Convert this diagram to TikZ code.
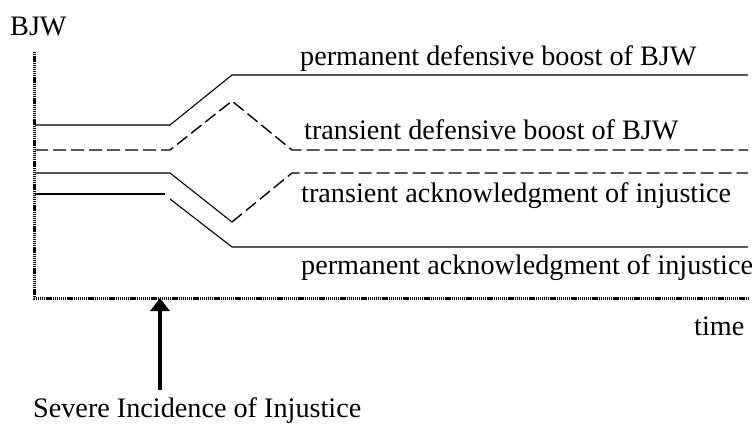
\documentclass[tikz,border=0pt]{standalone}
\usepackage{fontspec}
\setmainfont{Liberation Serif}
\usetikzlibrary{arrows.meta}
\begin{document}
\begin{tikzpicture}[x=1pt,y=-1pt,
  lbl/.style={font=\fontsize{28.2}{32}\selectfont, inner sep=0pt, anchor=west},
  axisline/.style={line width=3pt, dash pattern=on 1.3pt off 0.8pt},
  thinline/.style={line width=1.1pt},
  dashline/.style={line width=1.4pt, dash pattern=on 13pt off 5pt},
  bigarrow/.style={line width=3.5pt, -{Triangle[length=13pt,width=19pt]}}]
\useasboundingbox (0,0) rectangle (756,431);
% axes
\coordinate (ytop) at (34,52);
\coordinate (origin) at (34,298);
\coordinate (xend) at (749,298);
\draw[axisline] (ytop) -- (origin) -- (xend);
% permanent defensive boost
\coordinate (a0) at (35,125);
\coordinate (a1) at (170,125);
\coordinate (a2) at (232,75);
\coordinate (a3) at (748,75);
\draw[thinline] (a0) -- (a1) -- (a2) -- (a3);
% transient defensive boost
\coordinate (b0) at (35,150);
\coordinate (b1) at (170,150);
\coordinate (b2) at (232,101);
\coordinate (b3) at (292,150);
\coordinate (b4) at (748,150);
\draw[dashline] (b0) -- (b1) -- (b2) -- (b3) -- (b4);
% transient acknowledgment
\coordinate (c0) at (35,173);
\coordinate (c1) at (170,173);
\coordinate (c2) at (232,222);
\coordinate (c3) at (292,173);
\coordinate (c4) at (748,173);
\draw[thinline] (c0) -- (c1) -- (c2);
\draw[dashline] (c2) -- (c3) -- (c4);
% permanent acknowledgment
\coordinate (d0) at (35,194);
\coordinate (d1) at (165,194);
\coordinate (d2) at (170,199);
\coordinate (d3) at (232,247);
\coordinate (d4) at (748,247);
\draw[thinline] (d0) -- (d1);
\draw[thinline] (d2) -- (d3) -- (d4);
% labels
\node[lbl] (ybl) at (10,26) {BJW};
\node[lbl] (l1) at (300,59) {permanent defensive boost of BJW};
\node[lbl] (l2) at (304,130) {transient defensive boost of BJW};
\node[lbl] (l3) at (301,196) {transient acknowledgment of injustice};
\node[lbl] (l4) at (301,268) {permanent acknowledgment of injustice};
\node[lbl] (tl) at (694,326) {time};
\node[lbl] (sev) at (33,411) {Severe Incidence of Injustice};
% arrow
\coordinate (arrtip) at (160,298);
\coordinate (arrbase) at (160,390);
\draw[bigarrow] (arrbase) -- (arrtip);
\end{tikzpicture}
\end{document}
